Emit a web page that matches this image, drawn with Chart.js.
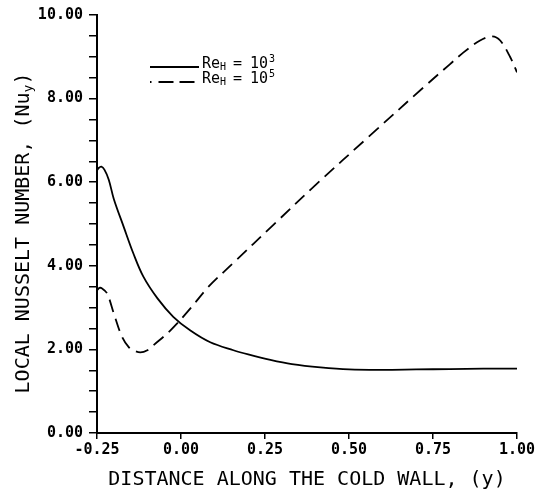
<!DOCTYPE html>
<html>
<head>
<meta charset="utf-8">
<script src="https://cdn.jsdelivr.net/npm/chart.js@4.4.1/dist/chart.umd.min.js"></script>
<style>
    html, body { margin: 0; padding: 0; background: #fff; }
    #wrap { width: 541px; height: 492px; }
</style>
</head>
<body>
<div id="wrap"><canvas id="nusselt-chart"></canvas></div>
<script>
// Re_H = 10^3 (solid)
const xLow = [-0.25, -0.245, -0.237, -0.228, -0.215, -0.2, -0.17, -0.142, -0.112, -0.07, -0.023, 0.028, 0.087, 0.156, 0.2, 0.266, 0.33, 0.415, 0.5, 0.6, 0.7, 0.8, 0.9, 1.0];
const nuLow = [6.28, 6.34, 6.37, 6.3, 6.06, 5.6, 4.92, 4.30, 3.74, 3.22, 2.78, 2.45, 2.17, 1.98, 1.88, 1.75, 1.65, 1.57, 1.52, 1.51, 1.52, 1.53, 1.54, 1.54];

// Re_H = 10^5 (dashed)
const xHigh = [-0.25, -0.243, -0.235, -0.22, -0.2, -0.175, -0.155, -0.142, -0.121, -0.1, -0.082, -0.032, 0.028, 0.082, 0.156, 0.275, 0.4, 0.563, 0.722, 0.8, 0.84, 0.89, 0.926, 0.95, 0.98, 1.0];
const nuHigh = [3.41, 3.47, 3.46, 3.34, 2.86, 2.29, 2.05, 1.98, 1.93, 1.98, 2.10, 2.45, 2.98, 3.5, 4.07, 4.98, 5.93, 7.12, 8.27, 8.82, 9.10, 9.39, 9.49, 9.39, 8.99, 8.63];

const reExponents = ['3', '5'];
const xTickValues = [-0.25, 0.0, 0.25, 0.5, 0.75, 1.0];
const yTickValues = [0, 0.5, 1, 1.5, 2, 2.5, 3, 3.5, 4, 4.5, 5, 5.5, 6, 6.5, 7, 7.5, 8, 8.5, 9, 9.5, 10];
const yLabelValues = [0, 2, 4, 6, 8, 10];

const xTitle = 'DISTANCE ALONG THE COLD WALL, (y)';
const yTitle = 'LOCAL NUSSELT NUMBER, (Nu';

const mono = '"DejaVu Sans Mono", monospace';

const toPoints = (xs, ys) => xs.map((x, i) => ({ x: x, y: ys[i] }));

// axis titles and the legend, drawn by hand so sub/superscripts work
const annotate = {
    id: 'annotate',
    afterDraw(chart) {
        const ctx = chart.ctx;
        const area = chart.chartArea;
        ctx.save();
        ctx.fillStyle = '#000';

        // x title
        ctx.font = '20px ' + mono;
        ctx.textAlign = 'center';
        ctx.textBaseline = 'middle';
        ctx.fillText(xTitle, (area.left + area.right) / 2, 480);

        // y title with subscript
        ctx.save();
        ctx.translate(24, 233);
        ctx.rotate(-Math.PI / 2);
        ctx.textAlign = 'left';
        ctx.textBaseline = 'middle';
        ctx.font = '20px ' + mono;
        const wMain = ctx.measureText(yTitle).width;
        ctx.font = '13px ' + mono;
        const wSub = ctx.measureText('y').width;
        ctx.font = '20px ' + mono;
        const wEnd = ctx.measureText(')').width;
        let x0 = -(wMain + wSub + wEnd) / 2;
        ctx.fillText(yTitle, x0, 0);
        x0 += wMain;
        ctx.font = '13px ' + mono;
        ctx.fillText('y', x0, 5);
        x0 += wSub;
        ctx.font = '20px ' + mono;
        ctx.fillText(')', x0, 0);
        ctx.restore();

        // legend
        const rows = [64, 79];
        chart.data.datasets.forEach((ds, i) => {
            const y = rows[i];
            ctx.save();
            ctx.strokeStyle = ds.borderColor;
            ctx.lineWidth = ds.borderWidth;
            ctx.setLineDash(i === 0 ? [] : [1.5, 7, 15, 6, 15, 6]);
            ctx.beginPath();
            ctx.moveTo(150, y + 3);
            ctx.lineTo(i === 0 ? 199 : 195, y + 3);
            ctx.stroke();
            ctx.restore();

            ctx.textAlign = 'left';
            ctx.textBaseline = 'alphabetic';
            ctx.font = '15px ' + mono;
            ctx.fillText('Re', 202, y + 4);
            ctx.fillText('=', 233, y + 4);
            ctx.fillText('10', 250, y + 4);
            ctx.font = '10px ' + mono;
            ctx.fillText('H', 220, y + 6);
            ctx.fillText(reExponents[i], 269, y - 2);
        });
        ctx.restore();
    }
};

new Chart(document.getElementById('nusselt-chart'), {
    type: 'line',
    data: {
        datasets: [
            {
                label: 'Re_H = 10^3',
                data: toPoints(xLow, nuLow),
                borderColor: '#000',
                borderWidth: 1.8,
                pointRadius: 0,
                tension: 0.35,
                fill: false
            },
            {
                label: 'Re_H = 10^5',
                data: toPoints(xHigh, nuHigh),
                borderColor: '#000',
                borderWidth: 1.8,
                borderDash: [13, 7],
                pointRadius: 0,
                tension: 0.35,
                fill: false
            }
        ]
    },
    options: {
        responsive: true,
        maintainAspectRatio: false,
        animation: false,
        layout: { padding: { top: 14, right: 24, left: 0, bottom: 0 } },
        plugins: {
            legend: { display: false },
            tooltip: { enabled: false }
        },
        scales: {
            x: {
                type: 'linear',
                min: -0.25,
                max: 1.0,
                afterBuildTicks: (scale) => { scale.ticks = xTickValues.map(v => ({ value: v })); },
                afterFit: (scale) => { scale.height = 59; },
                border: { display: true, color: '#000', width: 2 },
                grid: { drawOnChartArea: false, drawTicks: true, tickLength: 6, color: '#000', lineWidth: 1.5 },
                ticks: {
                    color: '#000',
                    font: { family: mono, size: 15, weight: 'bold' },
                    padding: 2,
                    maxRotation: 0,
                    callback: (v) => v.toFixed(2)
                }
            },
            y: {
                type: 'linear',
                min: 0,
                max: 10,
                afterBuildTicks: (scale) => { scale.ticks = yTickValues.map(v => ({ value: v })); },
                afterFit: (scale) => { scale.width = 97; },
                border: { display: true, color: '#000', width: 2 },
                grid: { drawOnChartArea: false, drawTicks: true, tickLength: 8, color: '#000', lineWidth: 1.5 },
                ticks: {
                    color: '#000',
                    font: { family: mono, size: 15, weight: 'bold' },
                    padding: 6,
                    autoSkip: false,
                    callback: (v) => yLabelValues.includes(v) ? v.toFixed(2) : ''
                }
            }
        }
    },
    plugins: [annotate]
});
</script>
</body>
</html>
